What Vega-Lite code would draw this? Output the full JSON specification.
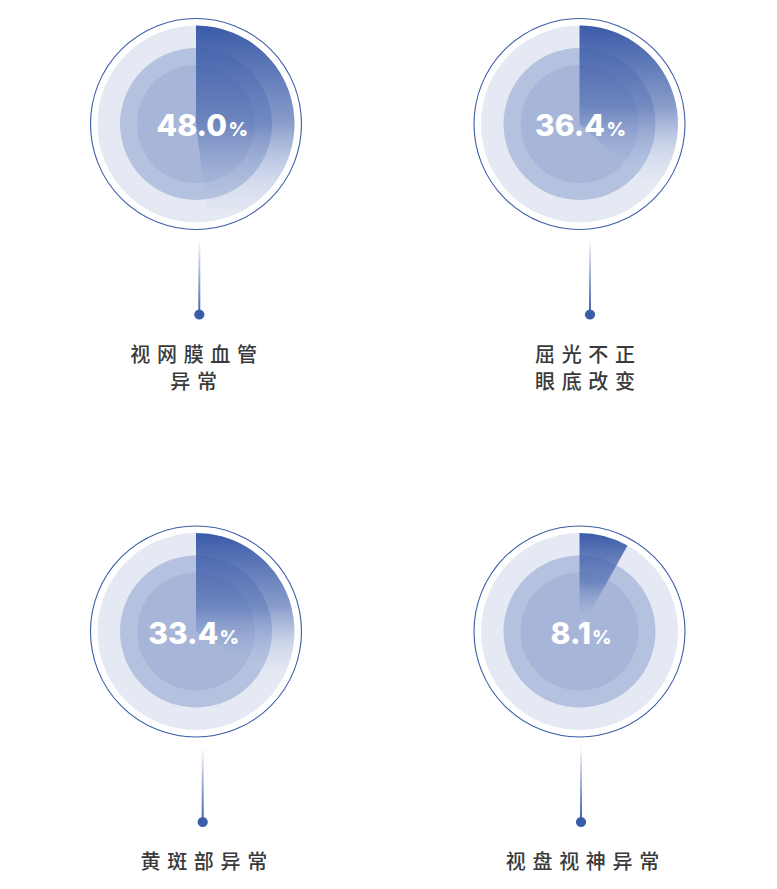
{
  "$schema": "https://vega.github.io/schema/vega-lite/v6.json",
  "background": "#ffffff",
  "padding": 0,
  "autosize": {"type": "fit", "contains": "padding"},
  "width": 777,
  "height": 889,
  "config": {"view": {"stroke": null}},
  "data": {
    "values": [
      {"id": 1, "col": 0, "row": 0, "label": "视网膜血管\n异常", "value": 48.0},
      {"id": 2, "col": 1, "row": 0, "label": "屈光不正\n眼底改变", "value": 36.4},
      {"id": 3, "col": 0, "row": 1, "label": "黄斑部异常", "value": 33.4},
      {"id": 4, "col": 1, "row": 1, "label": "视盘视神异常", "value": 8.1}
    ]
  },
  "encoding": {
    "x": {"field": "col", "type": "ordinal", "scale": {"type": "point", "domain": [0, 1], "range": [196, 579.5], "padding": 0}, "axis": null},
    "y": {"field": "row", "type": "ordinal", "scale": {"type": "point", "domain": [0, 1], "range": [124, 631.5], "padding": 0}, "axis": null}
  },
  "layer": [
    {"mark": {"type": "arc", "theta": 0, "theta2": 6.2832, "outerRadius": 105.5, "fill": "#ffffff", "stroke": "#3d5ea8", "strokeWidth": 1.1}},
    {"mark": {"type": "arc", "theta": 0, "theta2": 6.2832, "outerRadius": 98.5, "fill": "#e5e9f3"}},
    {"mark": {"type": "arc", "theta": 0, "theta2": 6.2832, "outerRadius": 76, "fill": "#b5c2df"}},
    {"mark": {"type": "arc", "theta": 0, "theta2": 6.2832, "outerRadius": 59, "fill": "#a7b6d8"}},

    {"mark": {"type": "arc", "outerRadius": 98.5, "fill": {"gradient": "linear", "x1": 0, "y1": 0, "x2": 0, "y2": 1, "stops": [
        {"offset": 0, "color": "rgba(59,91,168,1)"},
        {"offset": 0.5, "color": "rgba(62,94,170,0.55)"},
        {"offset": 0.8, "color": "rgba(150,170,214,0.22)"},
        {"offset": 1, "color": "rgba(240,243,250,0.15)"}]}},
     "encoding": {
       "theta": {"field": "value", "type": "quantitative", "scale": {"domain": [0, 100]}, "stack": null},
       "theta2": {"datum": 0}
     }},

    {"transform": [{"filter": "datum.id == 1"}],
     "mark": {"type": "text", "dx": 31, "dy": 12.2, "align": "right", "baseline": "alphabetic", "font": "Inter", "fontSize": 30, "fontWeight": 800, "fill": "#ffffff"},
     "encoding": {"text": {"field": "value", "type": "quantitative", "format": ".1f"}}},
    {"transform": [{"filter": "datum.id == 1"}],
     "mark": {"type": "text", "text": "%", "dx": 32.5, "dy": 12.2, "align": "left", "baseline": "alphabetic", "font": "Inter", "fontSize": 19, "fontWeight": 800, "fill": "#ffffff"}},
    {"transform": [{"filter": "datum.id == 2"}],
     "mark": {"type": "text", "dx": 25.5, "dy": 12.2, "align": "right", "baseline": "alphabetic", "font": "Inter", "fontSize": 30, "fontWeight": 800, "fill": "#ffffff"},
     "encoding": {"text": {"field": "value", "type": "quantitative", "format": ".1f"}}},
    {"transform": [{"filter": "datum.id == 2"}],
     "mark": {"type": "text", "text": "%", "dx": 27, "dy": 12.2, "align": "left", "baseline": "alphabetic", "font": "Inter", "fontSize": 19, "fontWeight": 800, "fill": "#ffffff"}},
    {"transform": [{"filter": "datum.id == 3"}],
     "mark": {"type": "text", "dx": 22.3, "dy": 12.2, "align": "right", "baseline": "alphabetic", "font": "Inter", "fontSize": 30, "fontWeight": 800, "fill": "#ffffff"},
     "encoding": {"text": {"field": "value", "type": "quantitative", "format": ".1f"}}},
    {"transform": [{"filter": "datum.id == 3"}],
     "mark": {"type": "text", "text": "%", "dx": 23.5, "dy": 12.2, "align": "left", "baseline": "alphabetic", "font": "Inter", "fontSize": 19, "fontWeight": 800, "fill": "#ffffff"}},
    {"transform": [{"filter": "datum.id == 4"}],
     "mark": {"type": "text", "dx": 11.5, "dy": 12.2, "align": "right", "baseline": "alphabetic", "font": "Inter", "fontSize": 30, "fontWeight": 800, "fill": "#ffffff"},
     "encoding": {"text": {"field": "value", "type": "quantitative", "format": ".1f"}}},
    {"transform": [{"filter": "datum.id == 4"}],
     "mark": {"type": "text", "text": "%", "dx": 12.5, "dy": 12.2, "align": "left", "baseline": "alphabetic", "font": "Inter", "fontSize": 19, "fontWeight": 800, "fill": "#ffffff"}},

    {"transform": [{"filter": "datum.id == 1"}],
     "mark": {"type": "rect", "xOffset": 2.3, "x2Offset": 4.3, "yOffset": 112, "y2Offset": 190.5, "fill": {"gradient": "linear", "x1": 0, "y1": 0, "x2": 0, "y2": 1, "stops": [{"offset": 0, "color": "rgba(255,255,255,0)"}, {"offset": 0.12, "color": "#eef1f8"}, {"offset": 1, "color": "#3d5ea8"}]}},
     "encoding": {"x2": {"field": "col"}, "y2": {"field": "row"}}},
    {"transform": [{"filter": "datum.id == 2"}],
     "mark": {"type": "rect", "xOffset": 9.5, "x2Offset": 11.5, "yOffset": 112, "y2Offset": 190.5, "fill": {"gradient": "linear", "x1": 0, "y1": 0, "x2": 0, "y2": 1, "stops": [{"offset": 0, "color": "rgba(255,255,255,0)"}, {"offset": 0.12, "color": "#eef1f8"}, {"offset": 1, "color": "#3d5ea8"}]}},
     "encoding": {"x2": {"field": "col"}, "y2": {"field": "row"}}},
    {"transform": [{"filter": "datum.id == 3"}],
     "mark": {"type": "rect", "xOffset": 5.7, "x2Offset": 7.7, "yOffset": 112, "y2Offset": 190.5, "fill": {"gradient": "linear", "x1": 0, "y1": 0, "x2": 0, "y2": 1, "stops": [{"offset": 0, "color": "rgba(255,255,255,0)"}, {"offset": 0.12, "color": "#eef1f8"}, {"offset": 1, "color": "#3d5ea8"}]}},
     "encoding": {"x2": {"field": "col"}, "y2": {"field": "row"}}},
    {"transform": [{"filter": "datum.id == 4"}],
     "mark": {"type": "rect", "xOffset": 0.5, "x2Offset": 2.5, "yOffset": 112, "y2Offset": 190.5, "fill": {"gradient": "linear", "x1": 0, "y1": 0, "x2": 0, "y2": 1, "stops": [{"offset": 0, "color": "rgba(255,255,255,0)"}, {"offset": 0.12, "color": "#eef1f8"}, {"offset": 1, "color": "#3d5ea8"}]}},
     "encoding": {"x2": {"field": "col"}, "y2": {"field": "row"}}},

    {"transform": [{"filter": "datum.id == 1"}],
     "mark": {"type": "point", "shape": "circle", "filled": true, "size": 105, "color": "#3b5ca9", "opacity": 1, "xOffset": 3.3, "yOffset": 190.5}},
    {"transform": [{"filter": "datum.id == 2"}],
     "mark": {"type": "point", "shape": "circle", "filled": true, "size": 105, "color": "#3b5ca9", "opacity": 1, "xOffset": 10.5, "yOffset": 190.5}},
    {"transform": [{"filter": "datum.id == 3"}],
     "mark": {"type": "point", "shape": "circle", "filled": true, "size": 105, "color": "#3b5ca9", "opacity": 1, "xOffset": 6.7, "yOffset": 190.5}},
    {"transform": [{"filter": "datum.id == 4"}],
     "mark": {"type": "point", "shape": "circle", "filled": true, "size": 105, "color": "#3b5ca9", "opacity": 1, "xOffset": 1.5, "yOffset": 190.5}},

    {"transform": [{"filter": "datum.id == 1"}],
     "mark": {"type": "text", "text": {"expr": "replace(datum.label, regexp('(.)(?=.)', 'g'), '$1\u2004')"}, "dx": -2.3, "dy": 237.5, "align": "center", "baseline": "alphabetic", "lineBreak": "\n", "lineHeight": 27.5, "font": "Noto Sans CJK SC", "fontSize": 20, "fontWeight": 500, "fill": "#3a3a3a"}},
    {"transform": [{"filter": "datum.id == 2"}],
     "mark": {"type": "text", "text": {"expr": "replace(datum.label, regexp('(.)(?=.)', 'g'), '$1\u2004')"}, "dx": 5.5, "dy": 237.5, "align": "center", "baseline": "alphabetic", "lineBreak": "\n", "lineHeight": 27.5, "font": "Noto Sans CJK SC", "fontSize": 20, "fontWeight": 500, "fill": "#3a3a3a"}},
    {"transform": [{"filter": "datum.id == 3"}],
     "mark": {"type": "text", "text": {"expr": "replace(datum.label, regexp('(.)(?=.)', 'g'), '$1\u2004')"}, "dx": 7.8, "dy": 237.5, "align": "center", "baseline": "alphabetic", "lineBreak": "\n", "lineHeight": 27.5, "font": "Noto Sans CJK SC", "fontSize": 20, "fontWeight": 500, "fill": "#3a3a3a"}},
    {"transform": [{"filter": "datum.id == 4"}],
     "mark": {"type": "text", "text": {"expr": "replace(datum.label, regexp('(.)(?=.)', 'g'), '$1\u2004')"}, "dx": 3, "dy": 237.5, "align": "center", "baseline": "alphabetic", "lineBreak": "\n", "lineHeight": 27.5, "font": "Noto Sans CJK SC", "fontSize": 20, "fontWeight": 500, "fill": "#3a3a3a"}}
  ]
}
